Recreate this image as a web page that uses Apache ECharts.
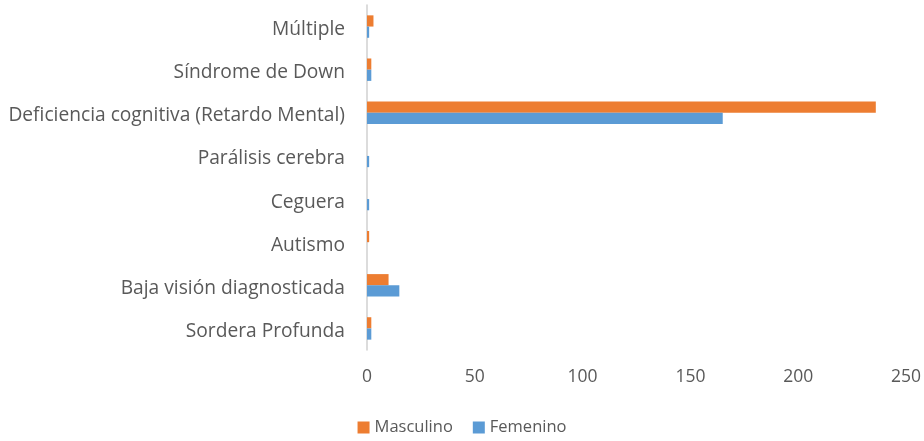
<!DOCTYPE html>
<html>
<head>
<meta charset="utf-8">
<script src="https://cdn.jsdelivr.net/npm/echarts@6/dist/echarts.min.js"></script>
<style>
  html, body { margin: 0; padding: 0; background: #fff; }
  #myChart { width: 924px; height: 441px; }
</style>
</head>
<body>
<div id="myChart"></div>
<script>
// categories from bottom to top (as in the source workbook)
var categorias = [
  "Sordera Profunda",
  "Baja visión diagnosticada",
  "Autismo",
  "Ceguera",
  "Parálisis cerebra",
  "Deficiencia cognitiva (Retardo Mental)",
  "Síndrome de Down",
  "Múltiple"
];
var masculino = [2, 10, 1, 0, 0, 236, 2, 3];
var femenino = [2, 15, 0, 1, 1, 165, 2, 1];
var ticksX = [0, 50, 100, 150, 200, 250];

var myChart = echarts.init(document.getElementById("myChart"));
var fuente = "Open Sans";
var option = {
  animation: false,
  textStyle: { fontFamily: fuente },
  legend: {
    data: ["Masculino", "Femenino"],
    bottom: 0,
    left: "center",
    icon: "rect",
    itemWidth: 12,
    itemHeight: 12,
    itemGap: 20,
    textStyle: { fontSize: 16.5, color: "#595959", fontFamily: fuente }
  },
  grid: { left: 367, right: 18, top: 5, bottom: 91 },
  xAxis: {
    type: "value",
    min: ticksX[0],
    max: ticksX[ticksX.length - 1],
    interval: 50,
    axisLine: { show: false },
    axisTick: { show: false },
    splitLine: { show: false },
    axisLabel: { fontSize: 17.5, color: "#595959", margin: 18, fontFamily: fuente }
  },
  yAxis: {
    type: "category",
    data: categorias,
    axisLine: { show: true, lineStyle: { color: "#d0d0d0", width: 1.5 } },
    axisTick: { show: false },
    axisLabel: {
      fontSize: 19.2,
      color: "#595959",
      margin: 22,
      verticalAlign: "top",
      lineHeight: 24,
      padding: [-9, 0, 0, 0],
      fontFamily: fuente
    }
  },
  series: [
    {
      name: "Masculino",
      type: "bar",
      data: masculino,
      barGap: "0%",
      barCategoryGap: "48%",
      itemStyle: { color: "#ED7D31" }
    },
    {
      name: "Femenino",
      type: "bar",
      data: femenino,
      barGap: "0%",
      barCategoryGap: "48%",
      itemStyle: { color: "#5B9BD5" }
    }
  ]
};
myChart.setOption(option);
</script>
</body>
</html>
